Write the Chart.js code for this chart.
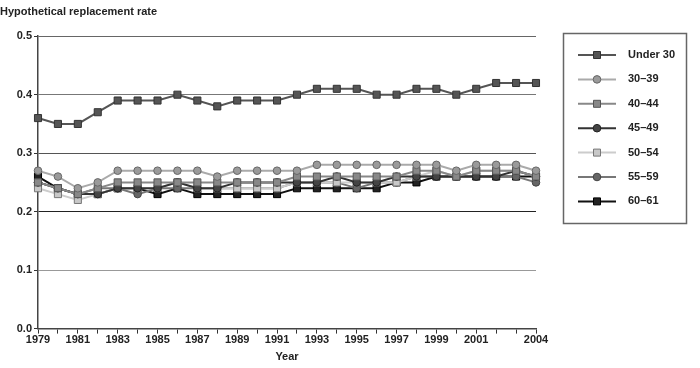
<!DOCTYPE html>
<html>
<head>
<meta charset="utf-8">
<script src="https://cdn.jsdelivr.net/npm/chart.js@4.4.0/dist/chart.umd.min.js"></script>
<style>
  body { margin: 0; background: #fff; }
  #wrap { width: 700px; height: 368px; }
</style>
</head>
<body>
<div id="wrap"><canvas id="chart" width="700" height="368"></canvas></div>
<script>
// years on the x axis
const years = [1979, 1980, 1981, 1982, 1983, 1984, 1985, 1986, 1987, 1988, 1989, 1990, 1991,
               1992, 1993, 1994, 1995, 1996, 1997, 1998, 1999, 2000, 2001, 2002, 2003, 2004];
const labeledYears = [1979, 1981, 1983, 1985, 1987, 1989, 1991, 1993, 1995, 1997, 1999, 2001, 2004];
const yTicks = [0, 0.1, 0.2, 0.3, 0.4, 0.5];

const under30 = [0.36, 0.35, 0.35, 0.37, 0.39, 0.39, 0.39, 0.40, 0.39, 0.38, 0.39, 0.39, 0.39,
                 0.40, 0.41, 0.41, 0.41, 0.40, 0.40, 0.41, 0.41, 0.40, 0.41, 0.42, 0.42, 0.42];
const age30to39 = [0.27, 0.26, 0.24, 0.25, 0.27, 0.27, 0.27, 0.27, 0.27, 0.26, 0.27, 0.27, 0.27,
                   0.27, 0.28, 0.28, 0.28, 0.28, 0.28, 0.28, 0.28, 0.27, 0.28, 0.28, 0.28, 0.27];
const age40to44 = [0.25, 0.24, 0.23, 0.24, 0.25, 0.25, 0.25, 0.25, 0.25, 0.25, 0.25, 0.25, 0.25,
                   0.26, 0.26, 0.26, 0.26, 0.26, 0.26, 0.27, 0.27, 0.26, 0.27, 0.27, 0.27, 0.26];
const age45to49 = [0.25, 0.24, 0.23, 0.23, 0.24, 0.24, 0.24, 0.25, 0.24, 0.24, 0.25, 0.25, 0.25,
                   0.25, 0.25, 0.26, 0.25, 0.25, 0.26, 0.26, 0.26, 0.26, 0.26, 0.26, 0.27, 0.26];
const age50to54 = [0.24, 0.23, 0.22, 0.23, 0.24, 0.24, 0.24, 0.25, 0.24, 0.24, 0.24, 0.24, 0.24,
                   0.25, 0.25, 0.25, 0.25, 0.25, 0.25, 0.26, 0.27, 0.26, 0.27, 0.27, 0.27, 0.26];
const age55to59 = [0.25, 0.24, 0.23, 0.24, 0.24, 0.23, 0.24, 0.24, 0.24, 0.24, 0.24, 0.24, 0.24,
                   0.25, 0.25, 0.25, 0.24, 0.25, 0.25, 0.26, 0.26, 0.26, 0.26, 0.26, 0.26, 0.25];
const age60to61 = [0.26, 0.24, 0.23, 0.23, 0.24, 0.24, 0.23, 0.24, 0.23, 0.23, 0.23, 0.23, 0.23,
                   0.24, 0.24, 0.24, 0.24, 0.24, 0.25, 0.25, 0.26, 0.26, 0.26, 0.26, 0.26, 0.26];

Chart.defaults.font.family = "'Liberation Sans', Arial, sans-serif";
Chart.defaults.font.weight = 'bold';
Chart.defaults.font.size = 11;
Chart.defaults.color = '#222';

function series(label, data, line, fill, edge, style) {
    return {
        label: label,
        data: data,
        borderColor: line,
        backgroundColor: fill,
        borderWidth: 2,
        lineTension: 0,
        pointStyle: style,
        pointRadius: style === 'rect' ? 5 : 3.8,
        pointBackgroundColor: fill,
        pointBorderColor: edge,
        pointBorderWidth: 1
    };
}

const datasets = [
    series('Under 30', under30, '#555', '#555', '#333', 'rect'),
    series('30\u201339', age30to39, '#aaa', '#9a9a9a', '#666', 'circle'),
    series('40\u201344', age40to44, '#888', '#888', '#555', 'rect'),
    series('45\u201349', age45to49, '#333', '#444', '#222', 'circle'),
    series('50\u201354', age50to54, '#ccc', '#c8c8c8', '#777', 'rect'),
    series('55\u201359', age55to59, '#777', '#666', '#444', 'circle'),
    series('60\u201361', age60to61, '#111', '#222', '#000', 'rect')
];

// legend box with a short line and marker for each series
const boxLegend = {
    id: 'boxLegend',
    afterDraw(chart) {
        const ctx = chart.ctx;
        ctx.save();
        ctx.strokeStyle = '#666';
        ctx.lineWidth = 1.5;
        ctx.strokeRect(563.5, 33.5, 123, 190);
        chart.data.datasets.forEach((ds, i) => {
            const y = 55 + i * 24.4;
            ctx.strokeStyle = ds.borderColor;
            ctx.lineWidth = 2;
            ctx.beginPath();
            ctx.moveTo(578, y);
            ctx.lineTo(616, y);
            ctx.stroke();
            ctx.fillStyle = ds.pointBackgroundColor;
            ctx.strokeStyle = ds.pointBorderColor;
            ctx.lineWidth = 1;
            ctx.beginPath();
            if (ds.pointStyle === 'rect') {
                ctx.rect(593.5, y - 3.5, 7, 7);
            } else {
                ctx.arc(597, y, 3.8, 0, Math.PI * 2);
            }
            ctx.fill();
            ctx.stroke();
            ctx.fillStyle = '#222';
            ctx.font = "bold 11px 'Liberation Sans', Arial, sans-serif";
            ctx.textBaseline = 'middle';
            ctx.fillText(ds.label, 628, y);
        });
        ctx.restore();
    }
};

const gridColors = { '0.1': '#999', '0.2': '#222', '0.3': '#555', '0.4': '#777', '0.5': '#666' };

new Chart('chart', {
    type: 'line',
    data: {
        labels: years,
        datasets: datasets
    },
    options: {
        responsive: false,
        animation: false,
        layout: { padding: { left: 0, right: 164, top: 0, bottom: 0 } },
        plugins: {
            legend: { display: false },
            tooltip: { enabled: false },
            title: {
                display: true,
                text: 'Hypothetical replacement rate',
                align: 'start',
                color: '#222',
                font: { size: 11, weight: 'bold' },
                padding: { top: 5, bottom: 18 }
            }
        },
        scales: {
            x: {
                offset: false,
                border: { color: '#444', width: 1.5 },
                grid: { drawOnChartArea: false, tickLength: 5, tickColor: '#333' },
                ticks: {
                    autoSkip: false,
                    maxRotation: 0,
                    padding: 0,
                    color: '#222',
                    callback: function(value, index) {
                        const y = years[index];
                        return labeledYears.includes(y) ? String(y) : '';
                    }
                },
                title: { display: true, text: 'Year', color: '#222', font: { size: 11, weight: 'bold' }, padding: { top: 4 } }
            },
            y: {
                min: 0,
                max: 0.5,
                border: { color: '#444', width: 1.5 },
                grid: {
                    tickLength: 4,
                    tickColor: '#333',
                    color: ctx => gridColors[ctx.tick ? ctx.tick.value.toFixed(1) : ''] || '#444'
                },
                afterBuildTicks: axis => { axis.ticks = yTicks.map(v => ({ value: v })); },
                afterFit: axis => { axis.width = 38; },
                ticks: {
                    padding: 2,
                    color: '#222',
                    callback: v => v.toFixed(1)
                }
            }
        }
    },
    plugins: [boxLegend]
});
</script>
</body>
</html>
